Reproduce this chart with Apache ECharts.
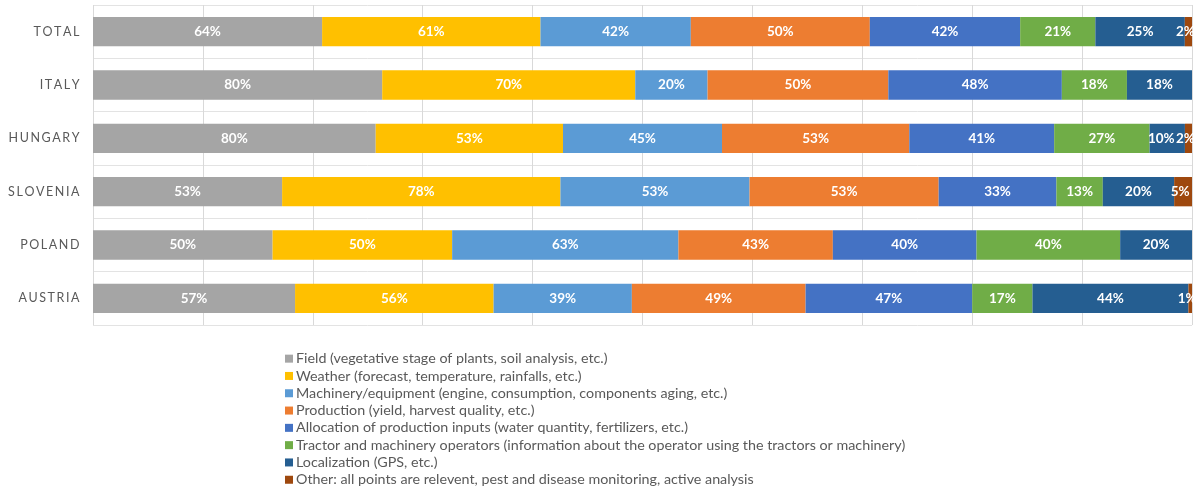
<!DOCTYPE html>
<html>
<head>
<meta charset="utf-8">
<script src="https://cdn.jsdelivr.net/npm/echarts@6/dist/echarts.min.js"></script>
<style>
  html, body { margin: 0; padding: 0; background: #ffffff; }
  #chart { width: 1196px; height: 491px; }
</style>
</head>
<body>
<div id="chart"></div>
<script>
// Countries, top to bottom
const categories = ['TOTAL', 'ITALY', 'HUNGARY', 'SLOVENIA', 'POLAND', 'AUSTRIA'];

// Share of respondents (%) naming each kind of data, per country
const field        = [64, 80, 80, 53, 50, 57];
const weather      = [61, 70, 53, 78, 50, 56];
const machinery    = [42, 20, 45, 53, 63, 39];
const production   = [50, 50, 53, 53, 43, 49];
const allocation   = [42, 48, 41, 33, 40, 47];
const tractor      = [21, 18, 27, 13, 40, 17];
const localization = [25, 18, 10, 20, 20, 44];
const other        = [2, null, 2, 5, null, 1];

const seriesNames = [
  'Field (vegetative stage of plants, soil analysis, etc.)',
  'Weather (forecast, temperature, rainfalls, etc.)',
  'Machinery/equipment (engine, consumption, components aging, etc.)',
  'Production (yield, harvest quality, etc.)',
  'Allocation of production inputs (water quantity, fertilizers, etc.)',
  'Tractor and machinery operators (information about the operator using the tractors or machinery)',
  'Localization (GPS, etc.)',
  'Other: all points are relevent, pest and disease monitoring, active analysis'
];
const seriesValues = [field, weather, machinery, production, allocation, tractor, localization, other];
const colors = ['#A5A5A5', '#FFC000', '#5B9BD5', '#ED7D31', '#4472C4', '#70AD47', '#255E91', '#9E480E'];

// 100% stacked: each bar is split in proportion to its answers
const rowTotals = categories.map((_, i) =>
  seriesValues.reduce((s, arr) => s + (arr[i] || 0), 0));

const lastSeries = seriesValues.length - 1;

const series = seriesValues.map((arr, k) => ({
  name: seriesNames[k],
  type: 'bar',
  stack: 'all',
  barWidth: '55%',
  itemStyle: { color: colors[k] },
  label: {
    show: true,
    position: 'inside',
    color: '#ffffff',
    fontFamily: 'Lato',
    fontWeight: 'bold',
    fontSize: 13.5,
    // the thin last segment's label is nudged left so it stays in the plot
    offset: k === lastSeries ? [-3, 0] : [0, 0],
    formatter: p => (p.data && p.data.raw != null) ? p.data.raw + '%' : ''
  },
  data: arr.map((v, i) => {
    if (v == null) return null;
    const item = { value: v / rowTotals[i] * 100, raw: v };
    // keep a narrow label clear of the thin segment that follows it
    if (k === lastSeries - 1 && v <= 10 && other[i] != null) {
      item.label = { offset: [-6, 0] };
    }
    return item;
  })
}));

const spaced = s => s.split('').join('\u2009') + '\u2009';

const chart = echarts.init(document.getElementById('chart'), null, { renderer: 'canvas' });
chart.setOption({
  animation: false,
  color: colors,
  grid: { left: 93, right: 4, top: 5, bottom: 166, containLabel: false },
  xAxis: {
    type: 'value',
    min: 0,
    max: 100,
    interval: 10,
    axisLabel: { show: false },
    axisLine: { show: false },
    axisTick: { show: false },
    splitLine: { show: true, lineStyle: { color: '#D9D9D9', width: 1 } }
  },
  yAxis: {
    type: 'category',
    inverse: true,
    data: categories,
    axisLine: { show: false },
    axisTick: { show: false },
    splitLine: { show: true, interval: 0, lineStyle: { color: '#E3E3E3', width: 1 } },
    axisLabel: {
      margin: 12,
      color: '#595959',
      fontFamily: 'Lato',
      fontSize: 12.5,
      formatter: v => spaced(v)
    }
  },
  legend: {
    orient: 'vertical',
    left: 280,
    top: 345,
    height: 170,
    itemWidth: 8,
    itemHeight: 8,
    itemGap: 0,
    icon: 'rect',
    selectedMode: false,
    textStyle: { color: '#595959', fontFamily: 'Lato', fontSize: 14.3, lineHeight: 17.3, padding: [0, 0, 0, -2] },
    data: seriesNames
  },
  series: series
});
</script>
</body>
</html>
